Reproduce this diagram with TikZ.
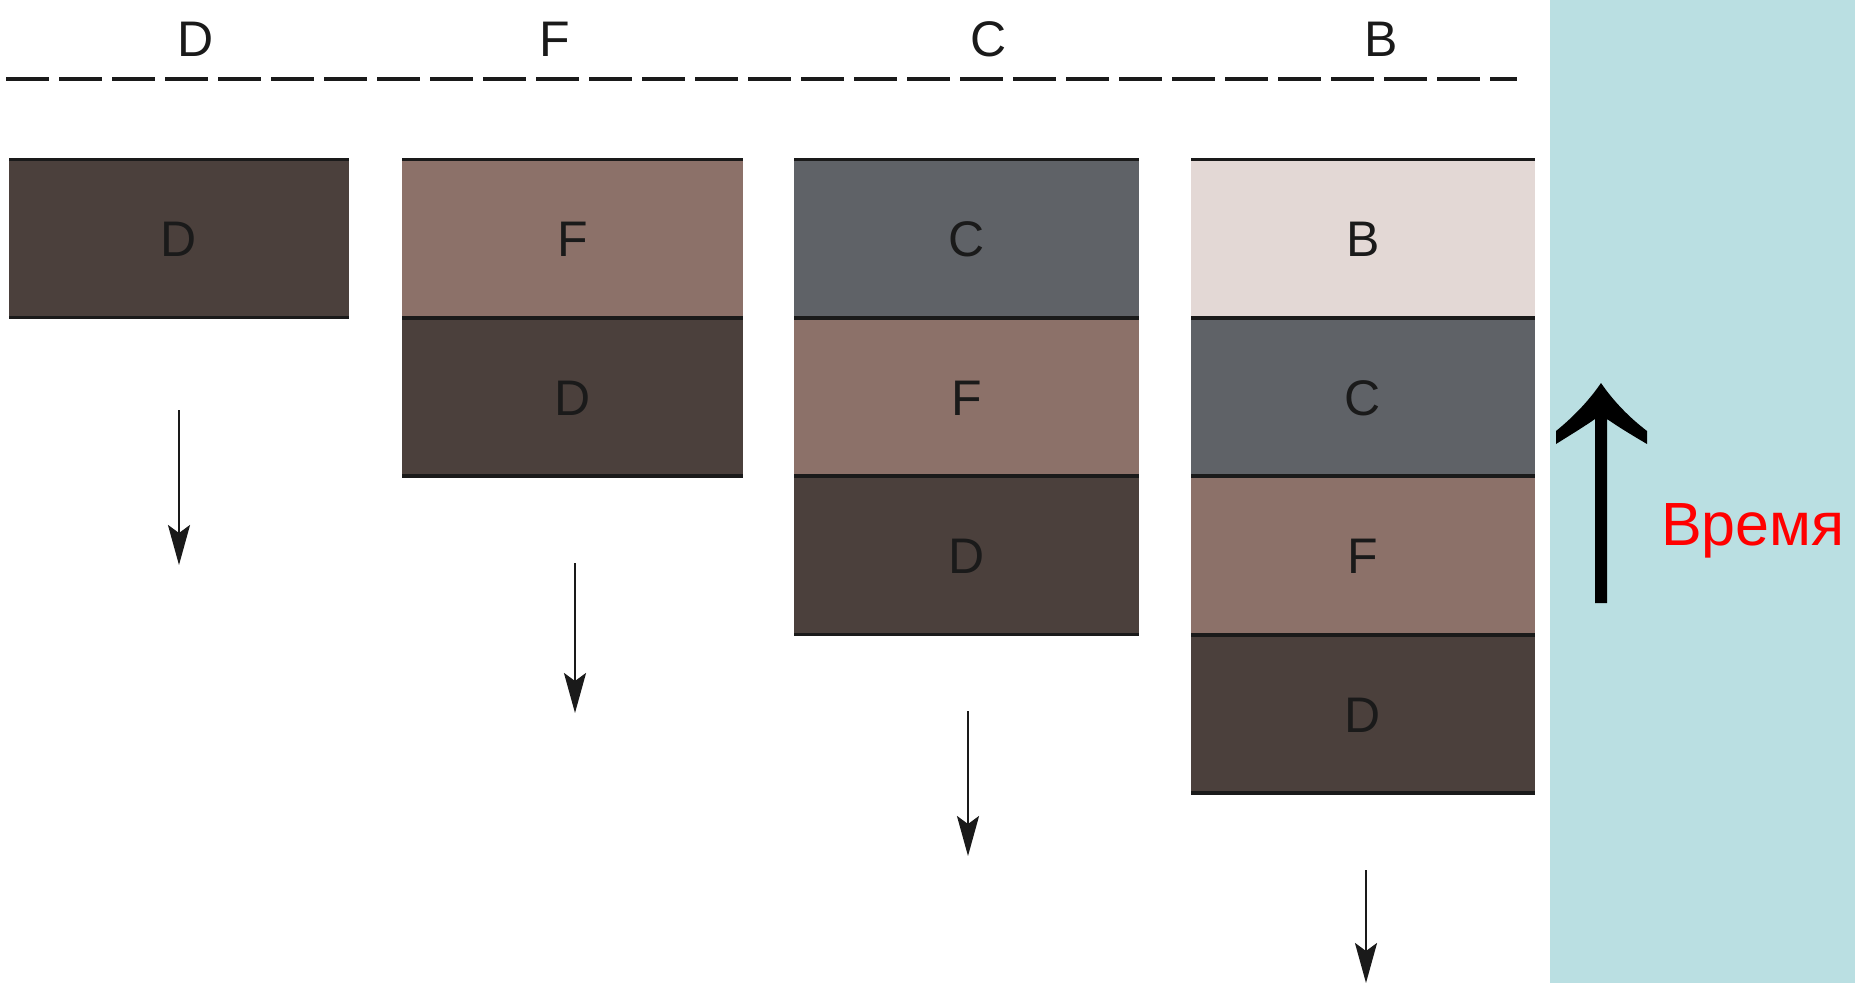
\documentclass[tikz,border=0pt]{standalone}
\usepackage{fontspec}
\setmainfont{Liberation Sans}
\usetikzlibrary{arrows.meta}
\definecolor{colD}{HTML}{4B403C}
\definecolor{colF}{HTML}{8C7169}
\definecolor{colC}{HTML}{5F6267}
\definecolor{colB}{HTML}{E3D8D5}
\definecolor{panel}{HTML}{BADFE2}
\definecolor{ink}{HTML}{1A1A1A}
\tikzset{
  layer/.style={rectangle, inner sep=0pt, outer sep=0pt, minimum height=158pt,
    text height=36pt, text depth=0pt, font=\fontsize{50}{50}\selectfont, text=ink},
  edge/.style={draw=ink, line width=3.5pt},
  sink/.style={draw=ink, line width=2.5pt, -{Stealth[length=40pt,width=22pt,inset=8pt]}},
  toplabel/.style={font=\fontsize{50}{50}\selectfont, text=ink, inner sep=0pt, anchor=base},
}
\begin{document}
\begin{tikzpicture}[x=1pt,y=-1pt]
\useasboundingbox (0,0) rectangle (1855,983);
\fill[white] (0,0) rectangle (1855,983);
\fill[panel] (1550,0) rectangle (1855,983);

% top labels
\node[toplabel] (tD) at (196,56) {D};
\node[toplabel] (tF) at (555,56) {F};
\node[toplabel] (tC) at (989,56) {C};
\node[toplabel] (tB) at (1381,56) {B};

% dashed surface line
\coordinate (sL) at (6,79);
\coordinate (sR) at (1517,79);
\draw[ink, line width=3.5pt, dash pattern=on 43pt off 10pt] (sL) -- (sR);

% column 1
\node[layer, fill=colD, minimum width=340pt] (c1d) at (179,238.5) {D};
% column 2
\node[layer, fill=colF, minimum width=341pt] (c2f) at (572.5,238.5) {F};
\node[layer, fill=colD, minimum width=341pt] (c2d) at (572.5,397) {D};
% column 3
\node[layer, fill=colC, minimum width=345pt] (c3c) at (966.5,238.5) {C};
\node[layer, fill=colF, minimum width=345pt] (c3f) at (966.5,397) {F};
\node[layer, fill=colD, minimum width=345pt] (c3d) at (966.5,555.5) {D};
% column 4
\node[layer, fill=colB, minimum width=344pt] (c4b) at (1363,238.5) {B};
\node[layer, fill=colC, minimum width=344pt] (c4c) at (1363,397) {C};
\node[layer, fill=colF, minimum width=344pt] (c4f) at (1363,555.5) {F};
\node[layer, fill=colD, minimum width=344pt] (c4d) at (1363,714) {D};

% boundary lines
\foreach \n in {c1d,c2f,c2d,c3c,c3f,c3d,c4b,c4c,c4f,c4d}{
  \draw[edge] (\n.north west) -- (\n.north east);
  \draw[edge] (\n.south west) -- (\n.south east);
}

% sinking arrows
\coordinate (a1s) at (179,410);  \coordinate (a1e) at (179,565);
\coordinate (a2s) at (575,563);  \coordinate (a2e) at (575,713);
\coordinate (a3s) at (968,711);  \coordinate (a3e) at (968,856);
\coordinate (a4s) at (1366,870); \coordinate (a4e) at (1366,983);
\draw[sink] (a1s) -- (a1e);
\draw[sink] (a2s) -- (a2e);
\draw[sink] (a3s) -- (a3e);
\draw[sink] (a4s) -- (a4e);

% time arrow
\fill[black] (1601,383) .. controls (1588,402) and (1572,418) .. (1556,431)
  -- (1556,444) .. controls (1572,434) and (1585,426) .. (1595,419)
  -- (1595,603) -- (1607,603) -- (1607,419)
  .. controls (1617,426) and (1630,434) .. (1647,444)
  -- (1647,431) .. controls (1630,418) and (1614,402) .. (1601,383) -- cycle;
\node[font=\fontsize{61}{61}\selectfont, text=red, inner sep=0pt, anchor=base west] (time) at (1661,545) {Время};
\end{tikzpicture}
\end{document}
